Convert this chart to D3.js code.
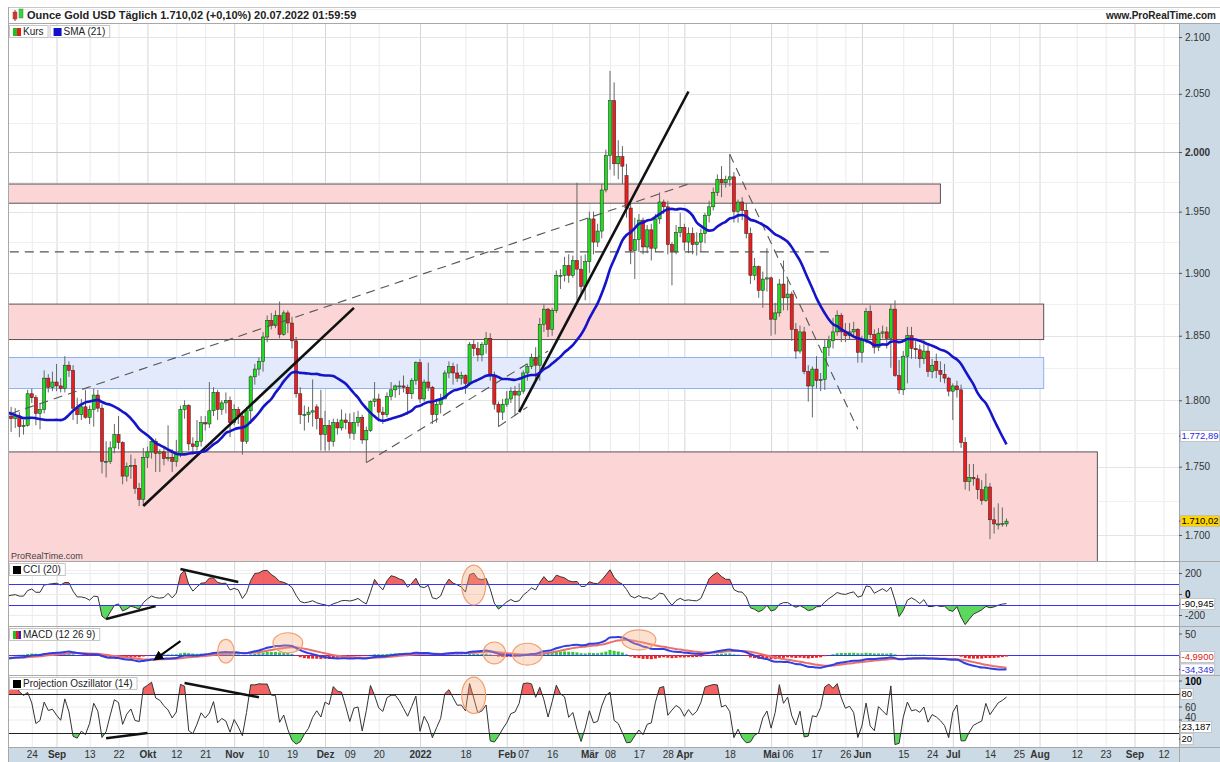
<!DOCTYPE html>
<html lang="de">
<head>
<meta charset="utf-8">
<title>Ounce Gold USD</title>
<script src="https://cdn.jsdelivr.net/npm/d3@7"></script>
<style>
  body { margin: 0; background: #fff; }
  svg { display: block; font-family: Arial, "Liberation Sans", sans-serif; }
  .ax text { font-size: 10px; fill: #333; }
</style>
</head>
<body>
<svg id="chart" width="1220" height="762"></svg>
<script>
// daily candles, one per weekday starting 2021-07-01 (one line per month)
const firstDay = '2021-07-01';
const opens = [
  1770,1777,1787,1792,1796,1803,1802,1808,1806,1808,1825,1829,1812,1812,1809,1803,1806,1802,1798,1799,1806,1828,
  1814,1813,1810,1812,1804,1763,1729,1731,1752,1753,1780,1788,1786,1788,1780,1781,1805,1802,1790,1793,1817,1810,
  1814,1811,1809,1827,1823,1794,1789,1795,1787,1793,1804,1794,1754,1754,1764,1774,1768,1743,1750,1751,1734,1726,
  1757,1761,1769,1760,1761,1756,1757,1754,1760,1793,1796,1767,1765,1769,1783,1782,1792,1806,1793,1798,1800,
  1783,1793,1788,1769,1792,1818,1824,1830,1849,1862,1858,1866,1851,1868,1860,1846,1805,1789,1789,1791,1795,1786,
  1774,1781,1769,1783,1779,1785,1783,1775,1783,1787,1770,1777,1799,1801,1791,1789,1803,1808,1811,1811,1810,1805,1815,
  1829,1801,1814,1810,1789,1797,1801,1821,1826,1821,1817,1819,1813,1843,1840,1835,1843,1848,1819,1797,1791,
  1797,1801,1807,1804,1807,1821,1826,1833,1827,1859,1871,1855,1870,1898,1898,1906,1898,1910,1903,1889,
  1909,1944,1925,1934,1968,1997,2044,1990,1996,1980,1953,1918,1927,1943,1921,1935,1920,1944,1958,1954,1923,1917,1933,
  1937,1925,1932,1923,1925,1932,1947,1954,1966,1977,1974,1977,1979,1950,1958,1951,1932,1898,1905,1886,1895,
  1896,1863,1868,1891,1880,1883,1855,1838,1853,1822,1811,1824,1815,1816,1841,1846,1853,1866,1853,1850,1853,1855,
  1837,1847,1869,1851,1841,1852,1853,1848,1871,1819,1808,1834,1850,1840,1839,1832,1838,1822,1830,1823,1820,1817,
  1807,1811,1808,1768,1739,1742,1741,1733,1725,1735,1711,1708,1708,1708
];
const highs = [
  1781,1790,1795,1815,1808,1818,1812,1810,1816,1829,1834,1831,1825,1817,1812,1812,1809,1810,1805,1808,1832,1832,
  1819,1816,1832,1815,1807,1767,1738,1755,1756,1781,1790,1795,1794,1791,1785,1808,1809,1804,1798,1823,1820,1822,
  1828,1817,1834,1830,1827,1802,1801,1808,1796,1809,1808,1797,1769,1769,1782,1788,1769,1753,1759,1756,1738,1764,
  1765,1770,1771,1763,1764,1781,1763,1770,1796,1800,1797,1772,1785,1788,1788,1814,1810,1808,1800,1806,1803,
  1797,1795,1792,1795,1819,1828,1833,1853,1866,1868,1870,1877,1870,1870,1865,1849,1810,1796,1795,1816,1797,1808,
  1792,1785,1786,1786,1793,1790,1790,1791,1792,1789,1780,1800,1814,1805,1795,1806,1814,1812,1815,1819,1812,1817,1830,
  1832,1816,1829,1811,1800,1805,1823,1830,1829,1828,1822,1820,1845,1847,1845,1845,1853,1852,1822,1799,1801,
  1807,1810,1811,1813,1823,1828,1836,1841,1864,1875,1872,1872,1902,1903,1913,1915,1914,1974,1914,1915,
  1950,1950,1940,1973,2002,2070,2060,2010,2005,1990,1957,1945,1948,1945,1939,1940,1948,1966,1960,1959,1925,1939,1949,
  1940,1937,1937,1933,1936,1949,1959,1970,1981,1988,1980,1998,1983,1960,1962,1957,1937,1912,1906,1901,1920,
  1897,1876,1895,1910,1894,1885,1860,1858,1857,1827,1826,1834,1821,1847,1850,1864,1870,1868,1860,1860,1861,1856,
  1850,1872,1874,1855,1856,1858,1857,1875,1878,1831,1838,1857,1857,1846,1843,1847,1842,1832,1836,1830,1828,1818,
  1813,1815,1812,1772,1752,1752,1744,1740,1745,1738,1720,1723,1720,1712
];
const lows = [
  1767,1775,1784,1790,1794,1795,1796,1791,1798,1805,1822,1809,1806,1795,1794,1796,1794,1790,1792,1795,1805,1810,
  1806,1805,1808,1798,1759,1690,1717,1726,1744,1750,1775,1776,1779,1772,1774,1780,1798,1781,1778,1790,1806,1807,
  1807,1806,1806,1818,1785,1782,1785,1786,1782,1780,1791,1745,1742,1752,1760,1763,1737,1739,1741,1730,1721,1721,
  1749,1756,1746,1746,1751,1754,1746,1750,1757,1786,1762,1759,1762,1765,1777,1779,1788,1785,1789,1790,1772,
  1781,1782,1759,1767,1782,1812,1819,1822,1845,1855,1856,1848,1850,1852,1840,1802,1782,1777,1783,1780,1778,1762,
  1762,1762,1765,1774,1777,1778,1771,1770,1780,1767,1753,1776,1795,1784,1782,1787,1800,1802,1804,1806,1789,1801,1812,
  1798,1799,1807,1782,1783,1790,1801,1817,1812,1814,1812,1805,1811,1834,1830,1830,1836,1815,1793,1780,1785,
  1795,1798,1788,1792,1805,1815,1824,1815,1815,1853,1849,1850,1868,1887,1893,1892,1896,1878,1882,1878,
  1900,1915,1921,1928,1966,1985,1980,1977,1973,1945,1907,1895,1917,1915,1916,1910,1917,1940,1948,1915,1890,1915,1929,
  1918,1916,1915,1914,1917,1924,1941,1951,1963,1962,1970,1971,1941,1941,1943,1928,1891,1894,1880,1872,1885,
  1850,1851,1865,1870,1870,1846,1832,1836,1820,1799,1787,1809,1807,1808,1834,1840,1850,1845,1845,1847,1849,1829,
  1829,1844,1848,1836,1838,1848,1840,1825,1818,1805,1804,1813,1832,1832,1825,1828,1818,1817,1817,1814,1813,1803,
  1785,1802,1764,1733,1732,1736,1726,1722,1724,1697,1701,1704,1706,1706
];
const closes = [
  1777,1787,1792,1796,1803,1802,1808,1806,1808,1825,1829,1812,1812,1809,1803,1806,1802,1798,1799,1806,1828,1814,
  1813,1810,1812,1804,1763,1729,1731,1752,1753,1780,1786,1786,1788,1780,1781,1805,1802,1790,1793,1817,1810,1814,
  1811,1809,1827,1823,1794,1789,1795,1787,1793,1804,1794,1754,1754,1764,1774,1768,1743,1750,1751,1734,1726,1757,
  1761,1769,1760,1761,1756,1757,1754,1760,1793,1796,1767,1765,1769,1783,1782,1792,1806,1793,1798,1800,1783,
  1793,1788,1769,1792,1818,1824,1830,1849,1862,1858,1866,1851,1868,1860,1846,1805,1789,1789,1791,1792,1786,1774,
  1781,1769,1783,1779,1785,1783,1775,1783,1787,1770,1777,1799,1801,1791,1789,1803,1808,1811,1811,1810,1805,1815,1829,
  1801,1814,1810,1789,1797,1801,1821,1826,1821,1817,1819,1813,1843,1840,1835,1843,1848,1819,1797,1791,1797,
  1801,1807,1804,1807,1821,1826,1833,1827,1859,1871,1855,1870,1898,1898,1906,1898,1910,1903,1889,1909,
  1944,1925,1934,1968,1997,2044,1990,1996,1988,1953,1918,1927,1943,1921,1935,1920,1944,1958,1954,1923,1917,1933,1937,
  1925,1932,1923,1925,1932,1947,1954,1966,1977,1974,1977,1979,1950,1958,1951,1932,1898,1905,1886,1895,1896,
  1863,1868,1891,1880,1883,1855,1838,1853,1822,1811,1824,1815,1816,1841,1846,1853,1866,1853,1850,1853,1855,1837,
  1847,1869,1851,1841,1852,1853,1848,1871,1819,1808,1834,1850,1840,1839,1832,1838,1822,1827,1823,1820,1817,1807,
  1811,1808,1768,1739,1742,1741,1733,1725,1735,1711,1708,1708,1708.3,1710.02
];

// axis labels
const priceTicks = [1700, 1750, 1800, 1850, 1900, 1950, 2000, 2050, 2100];
const tickDates = ['2021-08-24','2021-09-01','2021-09-13','2021-09-22','2021-10-01','2021-10-12','2021-10-21',
  '2021-11-01','2021-11-10','2021-11-19','2021-12-01','2021-12-09','2021-12-20','2022-01-03','2022-01-18',
  '2022-02-01','2022-02-07','2022-02-16','2022-03-01','2022-03-08','2022-03-17','2022-03-28','2022-04-01',
  '2022-04-18','2022-05-02','2022-05-06','2022-05-17','2022-05-26','2022-06-01','2022-06-15','2022-06-24',
  '2022-07-01','2022-07-14','2022-07-25','2022-08-01','2022-08-12','2022-08-23','2022-09-01','2022-09-12'];
const tickTexts = ['24','Sep','13','22','Okt','12','21','Nov','10','19','Dez','09','20','2022','18',
  'Feb','07','16','Mär','08','17','28','Apr','18','Mai','06','17','26','Jun','15','24',
  'Jul','14','25','Aug','12','23','Sep','12'];

// last-value tags on the right scale
const priceTags = [{ v: 1772.89, text: '1.772,89', kind: 'sma' }, { v: 1710.02, text: '1.710,02', kind: 'last' }];
const cciTag = { v: -90.945, text: '-90,945' };
const macdTags = [{ v: -4.99, text: '-4,9900', color: '#e02020' }, { v: -34.349, text: '-34,349', color: '#3030e0' }];
const poTag = { v: 23.187, text: '23,187' };

// drawings on the price chart
const zones = [
  { from: '2021-07-01', to: '2022-06-28', hi: 1973, lo: 1957, tone: 'red' },
  { from: '2021-07-01', to: '2022-08-02', hi: 1875, lo: 1847, tone: 'red' },
  { from: '2021-07-01', to: '2022-08-02', hi: 1833, lo: 1809, tone: 'blue' },
  { from: '2021-07-01', to: '2022-08-19', hi: 1761, lo: 1650, tone: 'red' }
];
const priceLines = [
  { a: ['2021-08-17', 1790], b: ['2022-04-04', 1973], dashed: true },
  { a: ['2021-07-01', 1917], b: ['2022-05-20', 1917], dashed: true },
  { a: ['2022-04-18', 1998], b: ['2022-05-31', 1778], dashed: true },
  { a: ['2021-12-15', 1753], b: ['2022-02-15', 1838], dashed: true },
  { a: ['2022-01-28', 1780], b: ['2022-02-08', 1795], dashed: true },
  { a: ['2021-09-30', 1721], b: ['2021-12-10', 1872], dashed: false },
  { a: ['2022-02-04', 1791], b: ['2022-04-04', 2052], dashed: false }
];
// drawings on the indicators
const cciLines = [{ a: ['2021-10-13', 243], b: ['2021-11-02', 119] }, { a: ['2021-09-17', -233], b: ['2021-10-05', -110] }];
const cciRings = [{ at: ['2022-01-20', 90], rx: 2.9, ry: 190 }];
const macdArrow = { a: ['2021-10-13', 33], b: ['2021-10-06', -2] };
const macdRings = [
  { at: ['2021-10-28', 9], rx: 2, ry: 28 },
  { at: ['2021-11-18', 29], rx: 3.6, ry: 24 },
  { at: ['2022-01-27', 5], rx: 2.7, ry: 26 },
  { at: ['2022-02-08', 2], rx: 3.6, ry: 26 },
  { at: ['2022-03-17', 36], rx: 4.1, ry: 24 }
];
const poLines = [{ a: ['2021-10-14', 97], b: ['2021-11-09', 75] }, { a: ['2021-09-17', 12], b: ['2021-10-01', 20] }];
const poRings = [{ at: ['2022-01-20', 78], rx: 2.9, ry: 28 }];

// ---------------------------------------------------------------
const svg = d3.select('#chart');
const L = 9, R = 1179;
const pane = { price: [23, 561], cci: [562, 626], macd: [627, 675], po: [676, 747] };

function weekdays(from, to) {
  const out = [];
  const d = new Date(from + 'T00:00:00Z'), end = new Date(to + 'T00:00:00Z');
  while (d <= end) {
    const w = d.getUTCDay();
    if (w > 0 && w < 6) out.push(d.toISOString().slice(0, 10));
    d.setUTCDate(d.getUTCDate() + 1);
  }
  return out;
}
const days = weekdays(firstDay, '2022-09-30');
const dayIdx = new Map(days.map((d, i) => [d, i]));
const xi = d => dayIdx.get(d);

const x = d3.scaleLinear().domain([xi('2022-03-08'), xi('2022-07-20')]).range([610, 1006.5]);
const yP = d3.scaleLog().domain([1700, 2100]).range([535, 37]);
const yC = d3.scaleLinear().domain([-100, 100]).range([605, 584]);
const yM = d3.scaleLinear().domain([0, 50]).range([655, 634]);
const yO = d3.scaleLinear().domain([20, 80]).range([733, 694]);

// indicators
const sma = closes.map((c, i) => i < 20 ? null : d3.mean(closes.slice(i - 20, i + 1)));
const typical = closes.map((c, i) => (highs[i] + lows[i] + c) / 3);
const cci = typical.map((tp, i) => {
  if (i < 19) return null;
  const win = typical.slice(i - 19, i + 1);
  const m = d3.mean(win);
  const md = d3.mean(win, v => Math.abs(v - m));
  return (tp - m) / (0.015 * md);
});
function ema(arr, n) {
  const a = 2 / (n + 1), out = [];
  arr.forEach((v, i) => out.push(i === 0 ? v : a * v + (1 - a) * out[i - 1]));
  return out;
}
const e12 = ema(closes, 12), e26 = ema(closes, 26);
const macd = closes.map((c, i) => e12[i] - e26[i]);
const signal = ema(macd, 9);
const hist = macd.map((m, i) => m - signal[i]);
const po = closes.map((c, t) => {
  const n = 14;
  if (t < n - 1) return null;
  let sx = 0, sxx = 0, sh = 0, sxh = 0, sl = 0, sxl = 0;
  for (let k = 0; k < n; k++) {
    const j = t - n + 1 + k;
    sx += k; sxx += k * k; sh += highs[j]; sxh += k * highs[j]; sl += lows[j]; sxl += k * lows[j];
  }
  const den = n * sxx - sx * sx;
  const mh = (n * sxh - sx * sh) / den, ml = (n * sxl - sx * sl) / den;
  let up = -Infinity, lo = Infinity;
  for (let k = 0; k < n; k++) {
    up = Math.max(up, highs[t - k] + k * mh);
    lo = Math.min(lo, lows[t - k] + k * ml);
  }
  return 100 * (c - lo) / (up - lo);
});

// background, strips
svg.append('rect').attr('width', 1220).attr('height', 762).attr('fill', '#fff');
svg.append('rect').attr('x', R).attr('y', 23).attr('width', 1220 - R).attr('height', 762 - 23).attr('fill', '#cbdae5');
svg.append('rect').attr('x', L).attr('y', 748).attr('width', R - L).attr('height', 14).attr('fill', '#cbdae5');

const defs = svg.append('defs');
Object.entries(pane).forEach(([k, [t, b]]) => {
  defs.append('clipPath').attr('id', 'clip-' + k)
    .append('rect').attr('x', L).attr('y', t).attr('width', R - L).attr('height', b - t);
});
defs.append('marker').attr('id', 'arrowhead').attr('viewBox', '0 0 10 10').attr('refX', 2).attr('refY', 5)
  .attr('markerWidth', 5).attr('markerHeight', 5).attr('orient', 'auto-start-reverse')
  .append('path').attr('d', 'M0,0 L10,5 L0,10 z').attr('fill', '#000');

// vertical grid
const grid = svg.append('g');
tickDates.forEach((d, i) => {
  const month = isNaN(+tickTexts[i]) || tickTexts[i] === '2022';
  grid.append('line').attr('x1', x(xi(d)) + 0.5).attr('x2', x(xi(d)) + 0.5).attr('y1', 23).attr('y2', 747)
    .attr('stroke', month ? '#d6d6d6' : '#ebebeb');
});
// horizontal grid (price)
d3.range(1675, 2126, 25).forEach(v => {
  grid.append('line').attr('x1', L).attr('x2', R).attr('y1', Math.round(yP(v)) + 0.5).attr('y2', Math.round(yP(v)) + 0.5)
    .attr('stroke', v === 2000 ? '#c4c4c4' : (v % 50 === 0 ? '#e4e4e4' : '#f0f0f0'));
});

// price pane
const gp = svg.append('g').attr('clip-path', 'url(#clip-price)');
zones.forEach(z => {
  const x0 = x(xi(z.from)), x1 = x(xi(z.to));
  gp.append('rect').attr('x', x0).attr('y', yP(z.hi)).attr('width', x1 - x0).attr('height', yP(z.lo) - yP(z.hi))
    .attr('fill', z.tone === 'red' ? '#fcd6d6' : '#e2eafb')
    .attr('stroke', z.tone === 'red' ? '#555' : '#8fb0f0').attr('stroke-width', 1);
});

const candles = closes.map((c, i) => ({ i, o: opens[i], h: highs[i], l: lows[i], c }));
const cg = gp.append('g');
cg.selectAll('line.wick').data(candles).join('line').attr('class', 'wick')
  .attr('x1', d => x(d.i)).attr('x2', d => x(d.i)).attr('y1', d => yP(d.h)).attr('y2', d => yP(d.l))
  .attr('stroke', '#666').attr('stroke-width', 1);
cg.selectAll('rect.body').data(candles).join('rect').attr('class', 'body')
  .attr('x', d => x(d.i) - 1.6).attr('width', 3.2)
  .attr('y', d => yP(Math.max(d.o, d.c)))
  .attr('height', d => Math.max(1, Math.abs(yP(d.o) - yP(d.c))))
  .attr('fill', d => d.c >= d.o ? '#1fdc1f' : '#ee1c1c')
  .attr('stroke', '#222').attr('stroke-width', 0.5);

priceLines.forEach(p => {
  gp.append('line').attr('x1', x(xi(p.a[0]))).attr('y1', yP(p.a[1])).attr('x2', x(xi(p.b[0]))).attr('y2', yP(p.b[1]))
    .attr('stroke', p.dashed ? '#555' : '#111').attr('stroke-width', p.dashed ? 1.1 : 2.6)
    .attr('stroke-dasharray', p.dashed ? '9,6' : null);
});

const smaPts = sma.map((v, i) => ({ i, v })).filter(d => d.v != null);
gp.append('path').datum(smaPts)
  .attr('d', d3.line().x(d => x(d.i)).y(d => yP(d.v)).curve(d3.curveMonotoneX))
  .attr('fill', 'none').attr('stroke', '#1414c8').attr('stroke-width', 2.6);

svg.append('text').attr('x', 11).attr('y', 559).attr('font-size', 9).attr('fill', '#444').text('ProRealTime.com');

// helper for filled oscillator
function oscillator(gk, series, y, hiLevel, loLevel, paneKey) {
  const pts = series.map((v, i) => ({ i, v })).filter(d => d.v != null);
  const [t, b] = pane[paneKey];
  const id = 'c' + paneKey;
  defs.append('clipPath').attr('id', id + 'hi').append('rect').attr('x', L).attr('y', t).attr('width', R - L).attr('height', y(hiLevel) - t);
  defs.append('clipPath').attr('id', id + 'lo').append('rect').attr('x', L).attr('y', y(loLevel)).attr('width', R - L).attr('height', b - y(loLevel));
  gk.append('g').attr('clip-path', `url(#${id}hi)`).append('path').datum(pts)
    .attr('d', d3.area().x(d => x(d.i)).y0(y(hiLevel)).y1(d => y(d.v)))
    .attr('fill', '#f04848').attr('opacity', 0.85);
  gk.append('g').attr('clip-path', `url(#${id}lo)`).append('path').datum(pts)
    .attr('d', d3.area().x(d => x(d.i)).y0(y(loLevel)).y1(d => y(d.v)))
    .attr('fill', '#3fd23f').attr('opacity', 0.85);
  gk.append('path').datum(pts).attr('d', d3.line().x(d => x(d.i)).y(d => y(d.v)))
    .attr('fill', 'none').attr('stroke', '#333').attr('stroke-width', 1);
}
function drawRings(g, rings, y) {
  rings.forEach(r => {
    const cx = x(xi(r.at[0])), cy = y(r.at[1]);
    g.append('ellipse').attr('cx', cx).attr('cy', cy)
      .attr('rx', Math.abs(x(xi(r.at[0]) + r.rx) - cx)).attr('ry', Math.abs(y(r.at[1] + r.ry) - cy))
      .attr('fill', 'rgba(248,170,120,0.35)').attr('stroke', '#f0a070').attr('stroke-width', 1.2);
  });
}
function drawSegs(g, segs, y) {
  segs.forEach(s => g.append('line').attr('x1', x(xi(s.a[0]))).attr('y1', y(s.a[1]))
    .attr('x2', x(xi(s.b[0]))).attr('y2', y(s.b[1])).attr('stroke', '#111').attr('stroke-width', 2.4));
}

// CCI pane
const gc = svg.append('g').attr('clip-path', 'url(#clip-cci)');
[200, 0, -200].forEach(v => gc.append('line').attr('x1', L).attr('x2', R).attr('y1', yC(v)).attr('y2', yC(v)).attr('stroke', '#ececec'));
oscillator(gc, cci, yC, 100, -100, 'cci');
[100, -100].forEach(v => gc.append('line').attr('x1', L).attr('x2', R).attr('y1', Math.round(yC(v)) + 0.5).attr('y2', Math.round(yC(v)) + 0.5).attr('stroke', '#3535f0'));
drawSegs(gc, cciLines, yC);
drawRings(gc, cciRings, yC);

// MACD pane
const gm = svg.append('g').attr('clip-path', 'url(#clip-macd)');
gm.append('line').attr('x1', L).attr('x2', R).attr('y1', yM(0) + 0.5).attr('y2', yM(0) + 0.5).attr('stroke', '#3535f0');
const hpts = hist.map((v, i) => ({ i, v })).filter(d => d.i >= 30);
gm.selectAll('rect.h').data(hpts).join('rect').attr('class', 'h')
  .attr('x', d => x(d.i) - 1.5).attr('width', 3)
  .attr('y', d => Math.min(yM(0), yM(d.v))).attr('height', d => Math.abs(yM(d.v) - yM(0)))
  .attr('fill', d => d.v >= 0 ? '#2ecc2e' : '#ee2222');
const mline = d3.line().x(d => x(d.i)).y(d => yM(d.v)).curve(d3.curveMonotoneX);
gm.append('path').datum(signal.map((v, i) => ({ i, v }))).attr('d', mline)
  .attr('fill', 'none').attr('stroke', '#ea7070').attr('stroke-width', 2);
gm.append('path').datum(macd.map((v, i) => ({ i, v }))).attr('d', mline)
  .attr('fill', 'none').attr('stroke', '#2f3fe0').attr('stroke-width', 2);
gm.append('line').attr('x1', x(xi(macdArrow.a[0]))).attr('y1', yM(macdArrow.a[1]))
  .attr('x2', x(xi(macdArrow.b[0]))).attr('y2', yM(macdArrow.b[1]))
  .attr('stroke', '#000').attr('stroke-width', 2).attr('marker-end', 'url(#arrowhead)');
drawRings(gm, macdRings, yM);

// Projection oscillator pane
const go = svg.append('g').attr('clip-path', 'url(#clip-po)');
[100, 60, 40].forEach(v => go.append('line').attr('x1', L).attr('x2', R).attr('y1', yO(v)).attr('y2', yO(v)).attr('stroke', '#ececec'));
oscillator(go, po, yO, 80, 20, 'po');
[80, 20].forEach(v => go.append('line').attr('x1', L).attr('x2', R).attr('y1', Math.round(yO(v)) + 0.5).attr('y2', Math.round(yO(v)) + 0.5).attr('stroke', '#222'));
drawSegs(go, poLines, yO);
drawRings(go, poRings, yO);

// pane borders
[23, 561, 626, 675, 747].forEach(y => svg.append('line').attr('x1', L).attr('x2', 1220).attr('y1', y + 0.5).attr('y2', y + 0.5).attr('stroke', '#a8a8a8'));
svg.append('line').attr('x1', L - 0.5).attr('x2', L - 0.5).attr('y1', 7).attr('y2', 762).attr('stroke', '#a8a8a8');
svg.append('line').attr('x1', R + 0.5).attr('x2', R + 0.5).attr('y1', 23).attr('y2', 762).attr('stroke', '#a8a8a8');
svg.append('line').attr('x1', L).attr('x2', 1220).attr('y1', 7.5).attr('y2', 7.5).attr('stroke', '#c8c8c8');

// right axes
const fmtDE = d3.formatLocale({ decimal: ',', thousands: '.', grouping: [3], currency: ['', ''] }).format(',');
const ax = svg.append('g').attr('class', 'ax').attr('transform', `translate(${R},0)`)
  .call(d3.axisRight(yP).tickValues(priceTicks).tickFormat(fmtDE).tickSize(3).tickPadding(3));
ax.select('.domain').remove();
ax.selectAll('.tick line').attr('stroke', '#555');
ax.selectAll('.tick text').attr('font-weight', d => d === 2000 ? 'bold' : null).attr('fill', d => d === 2000 ? '#000' : '#333');

function tag(y, text, color, bg) {
  const g = svg.append('g').attr('transform', `translate(${R},${y})`);
  g.append('line').attr('x1', 0).attr('x2', 2).attr('stroke', color === '#000' ? '#333' : color);
  const t = g.append('text').attr('x', 2.5).attr('dy', '0.35em').attr('font-size', 9.5).attr('fill', color).text(text);
  const full = t.node().getComputedTextLength();
  const w = Math.min(full, 1220 - R - 4);
  if (w < full) t.attr('textLength', w).attr('lengthAdjust', 'spacingAndGlyphs');
  g.insert('rect', 'text').attr('x', 1.5).attr('y', -5.5).attr('width', w + 2).attr('height', 11)
    .attr('fill', bg).attr('stroke', '#bbb').attr('stroke-width', 0.8);
}
priceTags.forEach(p => p.kind === 'sma' ? tag(yP(p.v), p.text, '#2a2ae0', '#fff') : tag(yP(p.v), p.text, '#000', '#ffd400'));

function plainTicks(vals, y, bold, shift) {
  vals.forEach(v => {
    svg.append('line').attr('x1', R).attr('x2', R + 3).attr('y1', y(v)).attr('y2', y(v)).attr('stroke', '#555');
    svg.append('text').attr('x', R + 6).attr('y', y(v) + (shift && shift[v] || 0)).attr('dy', '0.35em').attr('font-size', 10)
      .attr('font-weight', v === bold ? 'bold' : null).attr('fill', v === bold ? '#000' : '#333').text(v);
  });
}
plainTicks([200, 0, -200], yC, 0);
tag(yC(cciTag.v), cciTag.text, '#000', '#fff');
plainTicks([50], yM, null);
macdTags.forEach(m => tag(yM(m.v), m.text, m.color, '#fff'));
plainTicks([100, 60, 40], yO, 100, { 40: -3 });
tag(yO(80), '80', '#000', '#fff');
tag(yO(poTag.v) - 4, poTag.text, '#000', '#fff');
tag(yO(20) + 6, '20', '#000', '#fff');

// bottom axis
const bx = svg.append('g').attr('class', 'ax').attr('transform', 'translate(0,748)')
  .call(d3.axisBottom(x).tickValues(tickDates.map(xi)).tickFormat((d, i) => tickTexts[i]).tickSize(0).tickPadding(4));
bx.select('.domain').remove();
bx.selectAll('.tick text').attr('dy', '0.6em')
  .attr('font-weight', (d, i) => isNaN(+tickTexts[i]) || tickTexts[i] === '2022' ? 'bold' : null)
  .attr('fill', (d, i) => isNaN(+tickTexts[i]) || tickTexts[i] === '2022' ? '#111' : '#444');

// header
const head = svg.append('g');
head.append('rect').attr('x', 13).attr('y', 12).attr('width', 4).attr('height', 7).attr('fill', '#e84040').attr('stroke', '#933').attr('stroke-width', 0.5);
head.append('line').attr('x1', 15).attr('x2', 15).attr('y1', 10).attr('y2', 21).attr('stroke', '#933');
head.append('rect').attr('x', 19).attr('y', 9).attr('width', 4).attr('height', 9).attr('fill', '#3ed03e').attr('stroke', '#393').attr('stroke-width', 0.5);
head.append('text').attr('x', 27).attr('y', 19).attr('font-size', 11).attr('font-weight', 'bold').attr('fill', '#222')
  .text('Ounce Gold USD Täglich 1.710,02 (+0,10%) 20.07.2022 01:59:59');
head.append('text').attr('x', 1216).attr('y', 19).attr('text-anchor', 'end').attr('font-size', 10).attr('font-weight', 'bold').attr('fill', '#222')
  .text('www.ProRealTime.com');

function labelBox(x0, y0, text, icon) {
  const g = svg.append('g').attr('transform', `translate(${x0},${y0})`);
  const t = g.append('text').attr('x', 14).attr('y', 9.5).attr('font-size', 10).attr('fill', '#222').text(text);
  const w = t.node().getComputedTextLength();
  g.insert('rect', 'text').attr('x', 0.5).attr('y', 0.5).attr('width', w + 18).attr('height', 12)
    .attr('fill', '#fff').attr('stroke', '#c6c6c6');
  icon(g);
  return w + 19;
}
const w1 = labelBox(9, 25, 'Kurs', g => {
  g.append('rect').attr('x', 4).attr('y', 3).attr('width', 4).attr('height', 8).attr('fill', '#20c020');
  g.append('rect').attr('x', 8).attr('y', 3).attr('width', 4).attr('height', 8).attr('fill', '#e02020');
});
labelBox(9 + w1 + 1, 25, 'SMA (21)', g => g.append('rect').attr('x', 4).attr('y', 3).attr('width', 8).attr('height', 8).attr('fill', '#1010c8'));
labelBox(9, 563, 'CCI (20)', g => g.append('rect').attr('x', 4).attr('y', 3).attr('width', 8).attr('height', 8).attr('fill', '#000'));
labelBox(9, 628, 'MACD (12 26 9)', g => {
  g.append('rect').attr('x', 4).attr('y', 3).attr('width', 3).attr('height', 8).attr('fill', '#20c020');
  g.append('rect').attr('x', 7).attr('y', 3).attr('width', 3).attr('height', 8).attr('fill', '#e02020');
  g.append('rect').attr('x', 10).attr('y', 3).attr('width', 2).attr('height', 8).attr('fill', '#2020e0');
});
labelBox(9, 677, 'Projection Oszillator (14)', g => g.append('rect').attr('x', 4).attr('y', 3).attr('width', 8).attr('height', 8).attr('fill', '#000'));

// sanity check of the data lengths
const n = closes.length;
if (![opens, highs, lows].every(a => a.length === n)) {
  svg.append('text').attr('x', 400).attr('y', 300).attr('fill', 'red').attr('font-size', 20)
    .text(`length mismatch o${opens.length} h${highs.length} l${lows.length} c${n}`);
}
</script>
</body>
</html>
